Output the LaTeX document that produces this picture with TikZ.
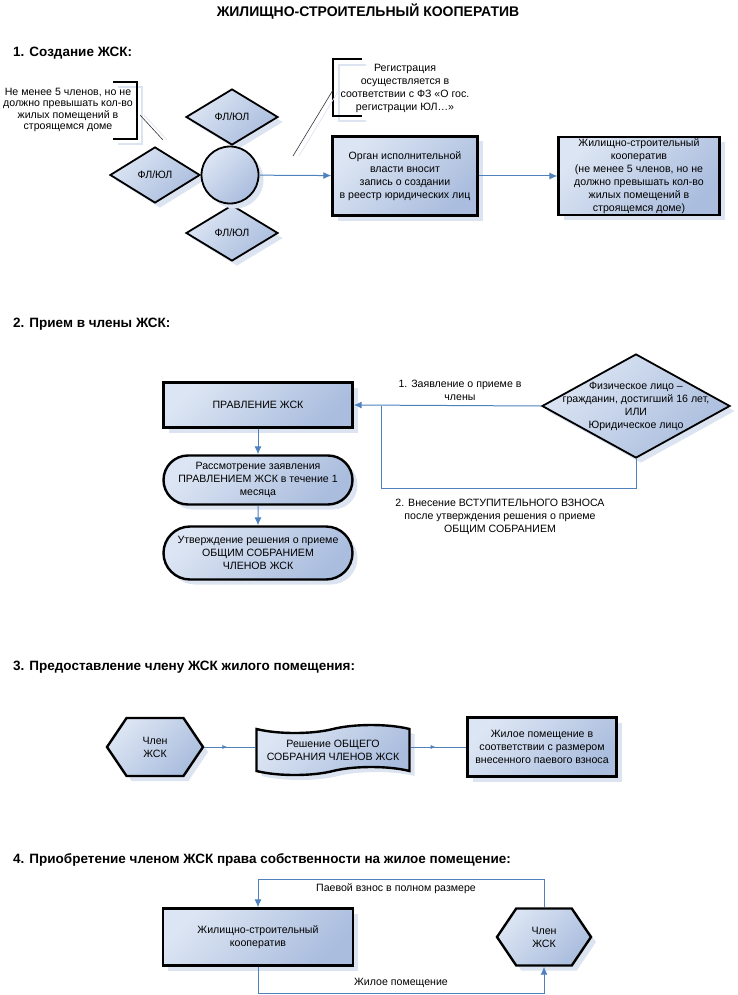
\documentclass[tikz,border=0pt]{standalone}
\usepackage{fontspec}
\setmainfont{Liberation Sans}
\usetikzlibrary{positioning, arrows.meta, shapes.geometric, shapes.misc, shapes.symbols, shadows, decorations.markings}

\definecolor{linkblue}{RGB}{79,129,189}
\definecolor{filltop}{RGB}{220,229,243}
\definecolor{fillbot}{RGB}{170,189,222}
\definecolor{shadowblue}{RGB}{220,228,241}
\definecolor{notegray}{RGB}{50,50,50}

\tikzset{
  txt/.style={font=\fontsize{10.6}{13}\selectfont, align=center, inner sep=0pt},
  head/.style={font=\fontsize{13.5}{16}\selectfont\bfseries, anchor=west, inner sep=0pt},
  shaded/.style={top color=filltop, bottom color=fillbot, shading angle=45,
    drop shadow={shadow xshift=5pt, shadow yshift=-5pt, fill=shadowblue, opacity=1}},
  box/.style={rectangle, draw=black, line width=2.4pt, shaded, txt},
  stadium/.style={rounded rectangle, draw=black, line width=2.4pt, shaded, txt},
  member/.style={signal, signal to=west and east, signal pointer angle=112, draw=black, line width=2.4pt, shaded, txt},
  decision/.style={tape, tape bend height=8pt, draw=black, line width=2.4pt, shaded, txt},
  party/.style={diamond, draw=black, line width=1.8pt, shaded, txt, minimum width=92pt, minimum height=56pt},
  founder/.style={circle, draw=black, line width=1.8pt, shaded, minimum size=57pt, inner sep=0pt},
  link/.style={draw=linkblue, line width=1pt, -{Latex[length=8pt,width=7pt]}},
  plain/.style={draw=linkblue, line width=1pt},
  midarrow/.style={draw=linkblue, line width=0.8pt, postaction={decorate},
    decoration={markings, mark=at position 0.45 with {\arrow{Latex[length=5pt,width=4pt]}}}},
  bracket/.style={draw=black, line width=2.2pt},
  bracketshadow/.style={draw=shadowblue, line width=2.2pt},
  noteline/.style={draw=notegray, line width=0.6pt},
  notelineshadow/.style={draw=shadowblue, line width=0.7pt}
}

\begin{document}
\begin{tikzpicture}[x=1pt, y=-1pt]
\useasboundingbox (0,0) rectangle (737,995);

\node[font=\fontsize{14}{16}\selectfont\bfseries, inner sep=0pt] (title) at (368,12) {ЖИЛИЩНО-СТРОИТЕЛЬНЫЙ КООПЕРАТИВ};

% 1
\node[head] (h1) at (13,53) {1. Создание ЖСК:};

\node[txt, font=\fontsize{10.6}{11.6}\selectfont] (note1) at (68,110) {Не менее 5 членов, но не\\должно превышать кол-во\\жилых помещений в\\строящемся доме};
\draw[bracketshadow] (118,87) -- (142,87) -- (142,144) -- (118,144);
\draw[bracket] (113,82) -- (137,82) -- (137,139) -- (113,139);
\coordinate (n1a) at (140,115);
\coordinate (n1b) at (163,140);
\draw[notelineshadow] ([xshift=4pt]n1a) -- ([xshift=4pt]n1b);
\draw[noteline] (n1a) -- (n1b);

\node[txt] (note2) at (405,88) {Регистрация\\осуществляется в\\соответствии с ФЗ «О гос.\\регистрации ЮЛ…»};
\draw[bracketshadow] (366,65) -- (339,65) -- (339,121) -- (366,121);
\draw[bracket] (362,59) -- (333,59) -- (333,116) -- (362,116);
\coordinate (n2a) at (333,90);
\coordinate (n2b) at (293,156);
\draw[notelineshadow] ([xshift=6pt]n2a) -- ([xshift=6pt]n2b);
\draw[noteline] (n2a) -- (n2b);

\node[party] (p1) at (232,117) {ФЛ/ЮЛ};
\node[party, minimum width=90pt] (p2) at (155,175) {ФЛ/ЮЛ};
\node[party] (p3) at (232,233) {ФЛ/ЮЛ};
\node[founder] (found) at (230,175) {};

\node[box, minimum width=145pt, minimum height=79pt] (organ) at (405,176) {Орган исполнительной\\власти вносит\\запись о создании\\в реестр юридических лиц};
\node[box, minimum width=161pt, minimum height=78pt] (coop1) at (639,176) {Жилищно-строительный\\кооператив\\(не менее 5 членов, но не\\должно превышать кол-во\\жилых помещений в\\строящемся доме)};

\draw[link] (found) -- (organ);
\draw[link] (organ) -- (coop1);

% 2
\node[head] (h2) at (13,324) {2. Прием в члены ЖСК:};

\node[box, minimum width=189pt, minimum height=45pt] (board) at (258,405) {ПРАВЛЕНИЕ ЖСК};
\node[stadium, minimum width=189pt, minimum height=49pt] (review) at (258,480) {Рассмотрение заявления\\ПРАВЛЕНИЕМ ЖСК в течение 1\\месяца};
\node[stadium, minimum width=189pt, minimum height=53pt] (approve) at (258,553) {Утверждение решения о приеме\\ОБЩИМ СОБРАНИЕМ\\ЧЛЕНОВ ЖСК};
\node[diamond, draw=black, line width=1.8pt, shaded, minimum width=188pt, minimum height=104pt, inner sep=0pt] (appl) at (636,406) {};
\node[txt] (appltext) at (appl.center) {Физическое лицо –\\гражданин, достигший 16 лет,\\ИЛИ\\Юридическое лицо};

\coordinate (join) at (381,406);
\draw[link] (appl.west) -- (board.east);
\draw[plain] (appl.south) -- ++(0,30) -| (join);
\draw[link] (board) -- (review);
\draw[link] (review) -- (approve);

\node[txt] (lab1) at (460,390) {1. Заявление о приеме в\\члены};
\node[txt] (lab2) at (500,517) {2. Внесение ВСТУПИТЕЛЬНОГО ВЗНОСА\\после утверждения решения о приеме\\ОБЩИМ СОБРАНИЕМ};

% 3
\node[head] (h3) at (13,667) {3. Предоставление члену ЖСК жилого помещения:};

\node[member, minimum width=96pt, minimum height=58pt] (mem1) at (155,747) {Член\\ЖСК};
\node[decision, minimum width=153pt, minimum height=50pt] (decis) at (333,750) {Решение ОБЩЕГО\\СОБРАНИЯ ЧЛЕНОВ ЖСК};
\node[box, minimum width=149pt, minimum height=59pt] (flat) at (542,747) {Жилое помещение в\\соответствии с размером\\внесенного паевого взноса};

\draw[midarrow] (mem1.east) -- (decis.west |- mem1.east);
\draw[midarrow] (decis.east |- flat.west) -- (flat.west);

% 4
\node[head] (h4) at (13,860) {4. Приобретение членом ЖСК права собственности на жилое помещение:};

\node[box, minimum width=190pt, minimum height=57pt] (coop2) at (258,937) {Жилищно-строительный\\кооператив};
\node[member, minimum width=94pt, minimum height=57pt] (mem2) at (544,937) {Член\\ЖСК};

\draw[link] (mem2.north) -- ++(0,-28) -| (coop2.north);
\draw[link] (coop2.south) -- ++(0,27) -| (mem2.south);

\node[txt] (lab3) at (396,889) {Паевой взнос в полном размере};
\node[txt] (lab4) at (401,983) {Жилое помещение};
\end{tikzpicture}
\end{document}
